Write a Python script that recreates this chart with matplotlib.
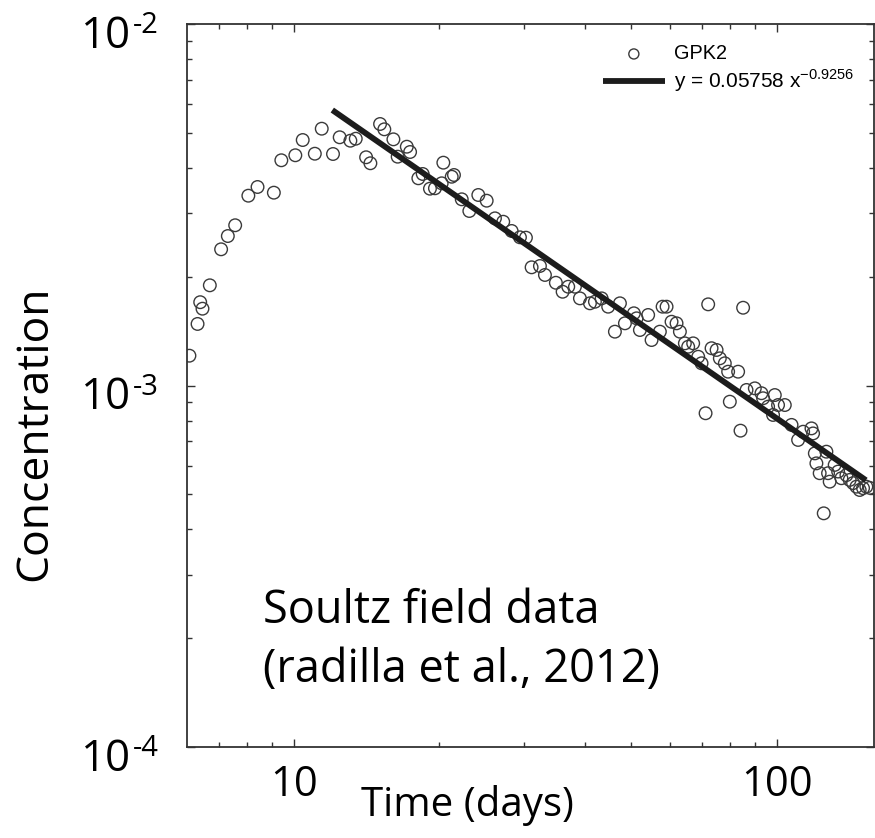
import matplotlib
matplotlib.use('Agg')
import matplotlib.pyplot as plt
from matplotlib.ticker import FixedLocator, FixedFormatter, NullFormatter

# ---------------- data ----------------
time_days = [6.07, 6.31, 6.39, 6.46, 6.69, 7.06, 7.29, 7.55, 8.04, 8.40, 9.08, 9.41,
             10.06, 10.42, 11.04, 11.41, 12.04, 12.43, 13.08, 13.42, 14.10, 14.39,
             15.07, 15.38, 16.06, 16.39, 17.12, 17.39, 18.09, 18.47, 19.12, 19.58,
             20.22, 20.38, 21.21, 21.44, 22.25, 23.07, 24.08, 25.06, 26.07, 27.12,
             28.23, 29.37, 30.22, 31.05, 32.31, 33.09, 34.86, 36.00, 36.98, 38.18,
             39.10, 41.01, 42.00, 43.37, 44.74, 46.20, 47.32, 48.46, 50.58, 51.23,
             52.05, 54.14, 55.03, 57.25, 58.00, 59.11, 60.53, 61.99, 62.99, 64.50,
             65.53, 67.11, 68.74, 69.85, 71.20, 72.09, 73.26, 75.04, 76.21, 78.04,
             79.29, 79.93, 83.16, 84.11, 85.16, 86.56, 90.05, 92.95, 93.67, 95.94,
             99.06, 100.6, 103.9, 98.24, 107.3, 110.7, 113.4, 118.0, 118.9, 119.9,
             120.8, 122.7, 126.7, 127.7, 128.7, 131.8, 134.0, 136.1, 139.4, 141.6,
             143.9, 146.2, 148.5, 150.9, 153.3, 125.1, 155.8]

concentration = [1.209e-3, 1.480e-3, 1.700e-3, 1.631e-3, 1.893e-3, 2.381e-3, 2.591e-3,
                 2.775e-3, 3.350e-3, 3.541e-3, 3.415e-3, 4.198e-3, 4.334e-3, 4.776e-3,
                 4.377e-3, 5.133e-3, 4.369e-3, 4.860e-3, 4.755e-3, 4.816e-3, 4.279e-3,
                 4.119e-3, 5.289e-3, 5.113e-3, 4.797e-3, 4.295e-3, 4.577e-3, 4.425e-3,
                 3.743e-3, 3.847e-3, 3.503e-3, 3.512e-3, 3.625e-3, 4.134e-3, 3.780e-3,
                 3.822e-3, 3.274e-3, 3.039e-3, 3.365e-3, 3.245e-3, 2.900e-3, 2.838e-3,
                 2.676e-3, 2.570e-3, 2.564e-3, 2.123e-3, 2.141e-3, 2.022e-3, 1.924e-3,
                 1.817e-3, 1.876e-3, 1.876e-3, 1.742e-3, 1.688e-3, 1.705e-3, 1.742e-3,
                 1.652e-3, 1.409e-3, 1.688e-3, 1.486e-3, 1.584e-3, 1.534e-3, 1.424e-3,
                 1.567e-3, 1.336e-3, 1.409e-3, 1.652e-3, 1.652e-3, 1.501e-3, 1.486e-3,
                 1.409e-3, 1.308e-3, 1.280e-3, 1.308e-3, 1.201e-3, 1.152e-3, 0.838e-3,
                 1.677e-3, 1.268e-3, 1.254e-3, 1.189e-3, 1.152e-3, 1.092e-3, 0.902e-3,
                 1.092e-3, 0.750e-3, 1.641e-3, 0.972e-3, 0.982e-3, 0.952e-3, 0.922e-3,
                 0.874e-3, 0.941e-3, 0.883e-3, 0.883e-3, 0.829e-3, 0.778e-3, 0.707e-3,
                 0.745e-3, 0.761e-3, 0.737e-3, 0.649e-3, 0.609e-3, 0.572e-3, 0.656e-3,
                 0.572e-3, 0.542e-3, 0.603e-3, 0.578e-3, 0.554e-3, 0.565e-3, 0.548e-3,
                 0.537e-3, 0.525e-3, 0.514e-3, 0.520e-3, 0.525e-3, 0.443e-3, 0.521e-3]

fit_time = [12.0, 153.0]
fit_conc = [5.78e-3, 5.47e-4]

series_label = 'GPK2'
fit_label = r'y = 0.05758 x$^{\mathdefault{-0.9256}}$'

x_ticks = [10, 100]
x_ticklabels = ['10', '100']
y_ticks = [1e-4, 1e-3, 1e-2]
y_tick_base = ['10', '10', '10']
y_tick_exp = ['-4', '-3', '-2']
x_minor = [7, 8, 9, 20, 30, 40, 50, 60, 70, 80, 90]
y_minor = [2e-4, 3e-4, 4e-4, 5e-4, 6e-4, 7e-4, 8e-4, 9e-4,
           2e-3, 3e-3, 4e-3, 5e-3, 6e-3, 7e-3, 8e-3, 9e-3]

x_label = 'Time (days)'
y_label = 'Concentration'
note_lines = ['Soultz field data', '(radilla et al., 2012)']

# ---------------- figure ----------------
plt.rcParams['font.family'] = ['Open Sans', 'DejaVu Sans']
W, H = 875, 838
fig = plt.figure(figsize=(W / 100, H / 100), dpi=100)
ax = fig.add_axes([187 / W, 1 - 747 / H, (874 - 187) / W, (747 - 24) / H])

ax.set_xscale('log')
ax.set_yscale('log')
ax.set_xlim(6.0, 159.0)
ax.set_ylim(1e-4, 1e-2)

pts = ax.scatter(time_days, concentration, s=82, facecolors='none',
                 edgecolors='#3a3a3a', linewidths=1.0, label=series_label, zorder=2)
fit_line, = ax.plot(fit_time, fit_conc, color='#1c1c1c', lw=4.2,
                    solid_capstyle='butt', label=fit_label, zorder=3)

ax.xaxis.set_major_locator(FixedLocator(x_ticks))
ax.xaxis.set_major_formatter(FixedFormatter(x_ticklabels))
ax.xaxis.set_minor_locator(FixedLocator(x_minor))
ax.xaxis.set_minor_formatter(NullFormatter())
ax.yaxis.set_major_locator(FixedLocator(y_ticks))
ax.yaxis.set_major_formatter(NullFormatter())
ax.yaxis.set_minor_locator(FixedLocator(y_minor))
ax.yaxis.set_minor_formatter(NullFormatter())

ax.tick_params(which='both', direction='in', top=True, right=True,
               color='#333333', width=1.0)
ax.tick_params(which='major', length=6)
ax.tick_params(which='minor', length=3.5)
ax.tick_params(axis='x', which='major', labelsize=30, pad=12)

# y tick labels: base "10" with a raised exponent using a short hyphen
ytrans = ax.get_yaxis_transform()
for val, base, ex in zip(y_ticks, y_tick_base, y_tick_exp):
    ax.annotate(base, xy=(0, val), xycoords=ytrans, xytext=(-40.5, -17.0),
                textcoords='offset points', ha='right', va='baseline',
                fontsize=31.5, annotation_clip=False)
    ax.annotate(ex, xy=(0, val), xycoords=ytrans, xytext=(-20.5, -6.5),
                textcoords='offset points', ha='right', va='baseline',
                fontsize=21, annotation_clip=False)

for sp in ax.spines.values():
    sp.set_color('#333333')
    sp.set_linewidth(1.3)

# axis labels
fig.text(35 / W, 1 - 433 / H, y_label, rotation=90, fontsize=32,
         ha='center', va='center')
fig.text(467 / W, 1 - 805 / H, x_label, fontsize=29, ha='center', va='center')

# annotation
ax.text(0.1106, 0.1715, note_lines[0], transform=ax.transAxes, fontsize=32.5,
        ha='left', va='baseline')
ax.text(0.1106, 0.0899, note_lines[1], transform=ax.transAxes, fontsize=32.5,
        ha='left', va='baseline')

# legend
leg = ax.legend(handles=[pts, fit_line], loc='upper left',
                bbox_to_anchor=(0.605, 0.972), frameon=False,
                prop={'family': ['Liberation Sans'], 'size': 14.5},
                handlelength=3.1, handletextpad=0.42, borderpad=0,
                borderaxespad=0, labelspacing=0.22, scatterpoints=1,
                markerscale=0.8)
texts = leg.get_texts()
texts[0].set_fontsize(14.3)
texts[1].set_fontsize(15)

fig.savefig('out.png', dpi=100)
